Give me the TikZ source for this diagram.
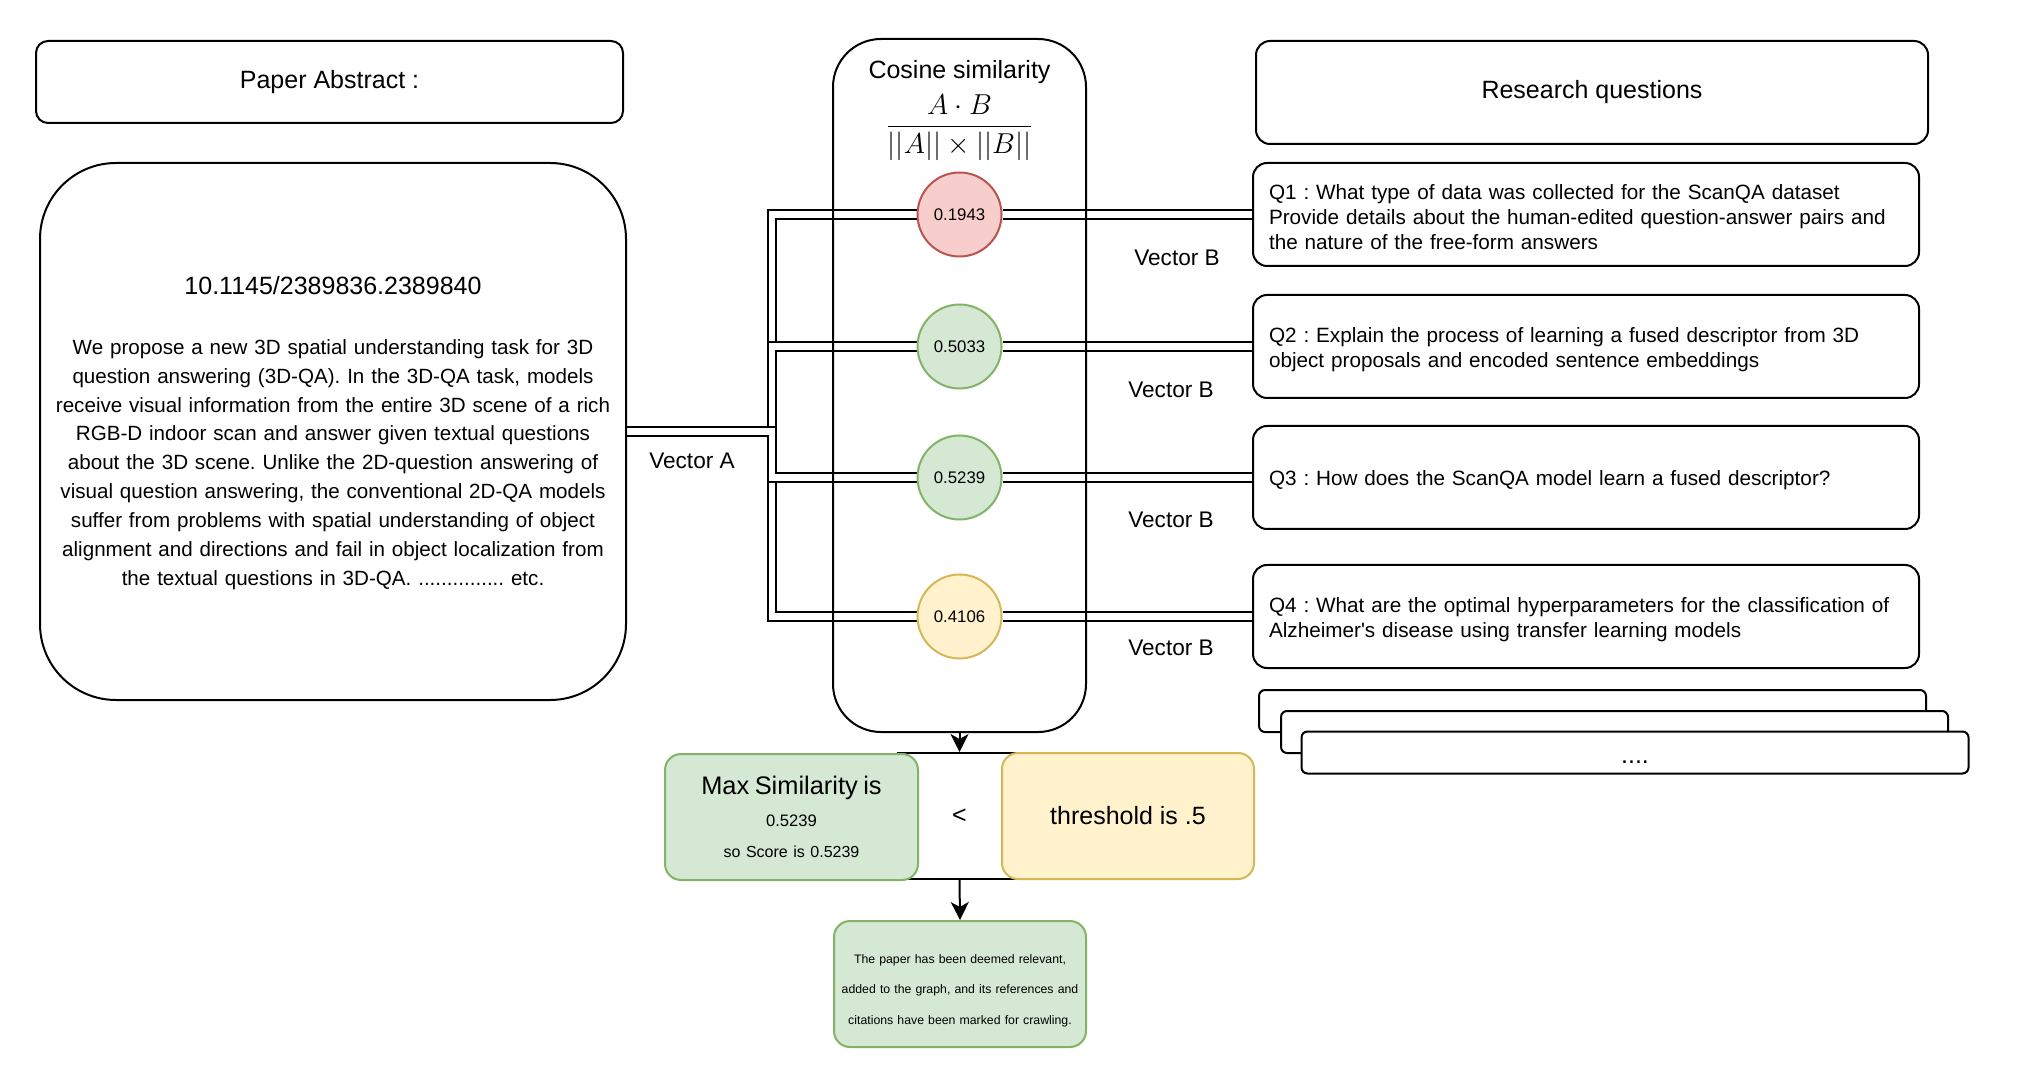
\documentclass[tikz,border=0pt]{standalone}
\usepackage{fontspec}
\setmainfont{Liberation Sans}
\usepackage{xcolor}
\usepackage{tikz}
\usetikzlibrary{arrows.meta,backgrounds}
\definecolor{redfill}{HTML}{F8CECC}
\definecolor{redline}{HTML}{B85450}
\definecolor{greenfill}{HTML}{D5E8D4}
\definecolor{greenline}{HTML}{82B366}
\definecolor{yellowfill}{HTML}{FFF2CC}
\definecolor{yellowline}{HTML}{D6B656}
\newcommand{\fsz}[2]{\fontsize{#1}{#2}\selectfont}
\frenchspacing

\begin{document}
\begin{tikzpicture}[x=0.5pt, y=-0.5pt,
  box/.style={draw, line width=1pt, rounded corners=7pt, align=center, inner sep=0pt, font=\fsz{12.5}{15}},
  qbox/.style={box, minimum width=333pt, minimum height=51.5pt, text width=317pt, align=left, font=\fsz{10.35}{12.5},
               execute at begin node=\rule{0pt}{10.3pt}},
  stackbox/.style={box, fill=white, rounded corners=3pt, minimum width=333.5pt, minimum height=21pt},
  score/.style={circle, line width=1pt, minimum size=42pt, inner sep=0pt, font=\fsz{8.4}{10}},
  softbox/.style={draw, line width=1pt, rounded corners=8pt, align=center, inner sep=0pt,
                  minimum width=126pt, minimum height=63pt},
  link/.style={double, double distance=3.4pt, line width=0.9pt},
  arr/.style={-{Stealth[length=9pt, width=9pt, inset=2.5pt]}, line width=1pt},
  vlabel/.style={font=\fsz{11.3}{13}}]
\useasboundingbox (0,0) rectangle (2032,1068);
\node[box, rounded corners=6pt, minimum width=293.5pt, minimum height=41pt] (head) at (329.5,82) {Paper Abstract :};
\node[box, rounded corners=38pt, minimum width=293pt, minimum height=268.5pt, text width=290pt,
      font=\fsz{10.3}{14.45}] (abs) at (333,431.5)
  {{\fsz{12.5}{14.45}\rule{0pt}{10.5pt}10.1145/2389836.2389840}\\[15.5pt]
   We propose a new 3D spatial understanding task for 3D\\
   question answering (3D-QA). In the 3D-QA task, models\\
   receive visual information from the entire 3D scene of a rich\\
   RGB-D indoor scan and answer given textual questions\\
   about the 3D scene. Unlike the 2D-question answering of\\
   visual question answering, the conventional 2D-QA models\\
   suffer from problems with spatial understanding of object\\
   alignment and directions and fail in object localization from\\
   the textual questions in 3D-QA. ............... etc.};
\node[box, rounded corners=24pt, minimum width=126.5pt, minimum height=346.5pt] (cos) at (959.5,385.5) {};
\node[font=\fsz{12.5}{15}] (costitle) at (959.5,72) {Cosine similarity};
\node[inner sep=0pt] (cosfrac) at (959.5,127.5) {\fsz{13.6}{16}$\displaystyle\frac{A\cdot B}{||A||\times||B||}$};
\node[score, fill=redfill, draw=redline] (c1) at (959.5,214.5) {0.1943};
\node[score, fill=greenfill, draw=greenline] (c2) at (959.5,346.5) {0.5033};
\node[score, fill=greenfill, draw=greenline] (c3) at (959.5,477.5) {0.5239};
\node[score, fill=yellowfill, draw=yellowline] (c4) at (959.5,616.5) {0.4106};
\node[box, minimum width=336pt, minimum height=51.5pt] (rq) at (1592,92.5) {Research questions};
\node[qbox] (q1) at (1586,214.5) {Q1 : What type of data was collected for the ScanQA dataset\\
  Provide details about the human-edited question-answer pairs and\\ the nature of the free-form answers};
\node[qbox] (q2) at (1586,346.5) {Q2 : Explain the process of learning a fused descriptor from 3D\\
  object proposals and encoded sentence embeddings};
\node[qbox] (q3) at (1586,477.5) {Q3 : How does the ScanQA model learn a fused descriptor?};
\node[qbox] (q4) at (1586,616.5) {Q4 : What are the optimal hyperparameters for the classification of\\
  Alzheimer\textquotesingle s disease using transfer learning models};
\node[stackbox] (more1) at (1592.5,711) {};
\node[stackbox] (more2) at (1614.5,732) {};
\node[stackbox] (more3) at (1635,752.5) {\smash{\raisebox{-5.5pt}{....}}};
\node[vlabel] (va) at (692,461) {Vector A};
\node[vlabel] (vb1) at (1177,258) {Vector B};
\node[vlabel] (vb2) at (1171,390) {Vector B};
\node[vlabel] (vb3) at (1171,520) {Vector B};
\node[vlabel] (vb4) at (1171,648) {Vector B};
\node[softbox, fill=greenfill, draw=greenline, minimum width=126.5pt, text width=126pt, font=\fsz{8.3}{15.75}] (maxs) at (791.5,817)
  {{\fsz{12.7}{15.75}Max Similarity is}\\ 0.5239\\ {\fsz{8}{15.75}so Score is 0.5239}};
\node[softbox, fill=yellowfill, draw=yellowline, font=\fsz{12.5}{15}] (thr) at (1128,816) {threshold is .5};
\node[softbox, fill=greenfill, draw=greenline, text width=124pt, font=\fsz{6.15}{15.25}] (res) at (960,984)
  {\rule{0pt}{10.9pt}The paper has been deemed relevant,\\ added to the graph, and its references and\\ citations have been marked for crawling.};
\begin{scope}[on background layer]
\node[draw, line width=1pt, minimum width=62pt, minimum height=63pt, font=\fsz{12.5}{15}] (lt) at (959.5,816) {<};
\coordinate (bus) at (772,431.5);
\draw[link] (abs.east) -- (bus) |- (c1.west);
\draw[link] (abs.east) -- (bus) |- (c2.west);
\draw[link] (abs.east) -- (bus) |- (c4.west);
\draw[link] (abs.east) -- (bus) |- (c3.west);
\draw[link] (c1.east) -- (q1.west); \draw[link] (c2.east) -- (q2.west);
\draw[link] (c3.east) -- (q3.west); \draw[link] (c4.east) -- (q4.west);
\end{scope}
\draw[arr] (cos.south) -- (lt.north);
\draw[arr] (lt.south) -- (res.north);
\end{tikzpicture}
\end{document}
